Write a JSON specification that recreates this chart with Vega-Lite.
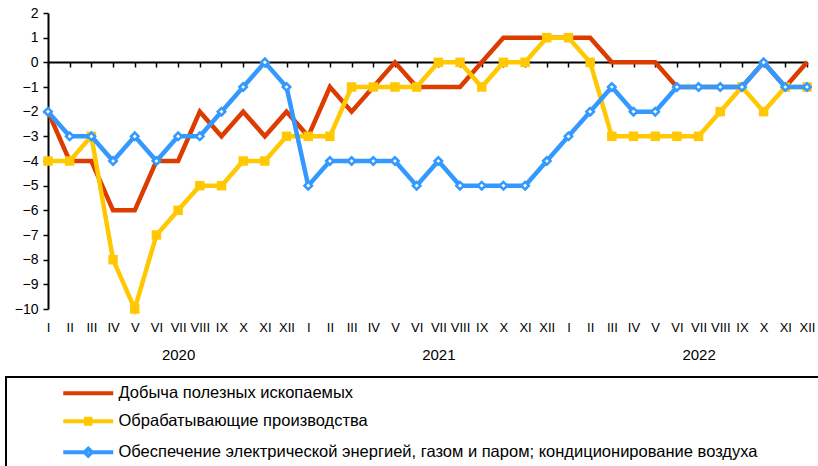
{
  "$schema": "https://vega.github.io/schema/vega-lite/v6.json",
  "width": 759,
  "height": 296,
  "autosize": "none",
  "padding": {"left": 48, "top": 13, "right": 11, "bottom": 157},
  "background": "white",
  "config": {"view": {"stroke": null}, "font": "Liberation Sans", "legend": {"strokeWidth": 2}},
  "data": {"values": [
    {"n": 1, "Добыча полезных ископаемых": -2, "Обрабатывающие производства": -4, "Обеспечение электрической энергией, газом и паром; кондиционирование воздуха": -2},
    {"n": 2, "Добыча полезных ископаемых": -4, "Обрабатывающие производства": -4, "Обеспечение электрической энергией, газом и паром; кондиционирование воздуха": -3},
    {"n": 3, "Добыча полезных ископаемых": -4, "Обрабатывающие производства": -3, "Обеспечение электрической энергией, газом и паром; кондиционирование воздуха": -3},
    {"n": 4, "Добыча полезных ископаемых": -6, "Обрабатывающие производства": -8, "Обеспечение электрической энергией, газом и паром; кондиционирование воздуха": -4},
    {"n": 5, "Добыча полезных ископаемых": -6, "Обрабатывающие производства": -10, "Обеспечение электрической энергией, газом и паром; кондиционирование воздуха": -3},
    {"n": 6, "Добыча полезных ископаемых": -4, "Обрабатывающие производства": -7, "Обеспечение электрической энергией, газом и паром; кондиционирование воздуха": -4},
    {"n": 7, "Добыча полезных ископаемых": -4, "Обрабатывающие производства": -6, "Обеспечение электрической энергией, газом и паром; кондиционирование воздуха": -3},
    {"n": 8, "Добыча полезных ископаемых": -2, "Обрабатывающие производства": -5, "Обеспечение электрической энергией, газом и паром; кондиционирование воздуха": -3},
    {"n": 9, "Добыча полезных ископаемых": -3, "Обрабатывающие производства": -5, "Обеспечение электрической энергией, газом и паром; кондиционирование воздуха": -2},
    {"n": 10, "Добыча полезных ископаемых": -2, "Обрабатывающие производства": -4, "Обеспечение электрической энергией, газом и паром; кондиционирование воздуха": -1},
    {"n": 11, "Добыча полезных ископаемых": -3, "Обрабатывающие производства": -4, "Обеспечение электрической энергией, газом и паром; кондиционирование воздуха": 0},
    {"n": 12, "Добыча полезных ископаемых": -2, "Обрабатывающие производства": -3, "Обеспечение электрической энергией, газом и паром; кондиционирование воздуха": -1},
    {"n": 13, "Добыча полезных ископаемых": -3, "Обрабатывающие производства": -3, "Обеспечение электрической энергией, газом и паром; кондиционирование воздуха": -5},
    {"n": 14, "Добыча полезных ископаемых": -1, "Обрабатывающие производства": -3, "Обеспечение электрической энергией, газом и паром; кондиционирование воздуха": -4},
    {"n": 15, "Добыча полезных ископаемых": -2, "Обрабатывающие производства": -1, "Обеспечение электрической энергией, газом и паром; кондиционирование воздуха": -4},
    {"n": 16, "Добыча полезных ископаемых": -1, "Обрабатывающие производства": -1, "Обеспечение электрической энергией, газом и паром; кондиционирование воздуха": -4},
    {"n": 17, "Добыча полезных ископаемых": 0, "Обрабатывающие производства": -1, "Обеспечение электрической энергией, газом и паром; кондиционирование воздуха": -4},
    {"n": 18, "Добыча полезных ископаемых": -1, "Обрабатывающие производства": -1, "Обеспечение электрической энергией, газом и паром; кондиционирование воздуха": -5},
    {"n": 19, "Добыча полезных ископаемых": -1, "Обрабатывающие производства": 0, "Обеспечение электрической энергией, газом и паром; кондиционирование воздуха": -4},
    {"n": 20, "Добыча полезных ископаемых": -1, "Обрабатывающие производства": 0, "Обеспечение электрической энергией, газом и паром; кондиционирование воздуха": -5},
    {"n": 21, "Добыча полезных ископаемых": 0, "Обрабатывающие производства": -1, "Обеспечение электрической энергией, газом и паром; кондиционирование воздуха": -5},
    {"n": 22, "Добыча полезных ископаемых": 1, "Обрабатывающие производства": 0, "Обеспечение электрической энергией, газом и паром; кондиционирование воздуха": -5},
    {"n": 23, "Добыча полезных ископаемых": 1, "Обрабатывающие производства": 0, "Обеспечение электрической энергией, газом и паром; кондиционирование воздуха": -5},
    {"n": 24, "Добыча полезных ископаемых": 1, "Обрабатывающие производства": 1, "Обеспечение электрической энергией, газом и паром; кондиционирование воздуха": -4},
    {"n": 25, "Добыча полезных ископаемых": 1, "Обрабатывающие производства": 1, "Обеспечение электрической энергией, газом и паром; кондиционирование воздуха": -3},
    {"n": 26, "Добыча полезных ископаемых": 1, "Обрабатывающие производства": 0, "Обеспечение электрической энергией, газом и паром; кондиционирование воздуха": -2},
    {"n": 27, "Добыча полезных ископаемых": 0, "Обрабатывающие производства": -3, "Обеспечение электрической энергией, газом и паром; кондиционирование воздуха": -1},
    {"n": 28, "Добыча полезных ископаемых": 0, "Обрабатывающие производства": -3, "Обеспечение электрической энергией, газом и паром; кондиционирование воздуха": -2},
    {"n": 29, "Добыча полезных ископаемых": 0, "Обрабатывающие производства": -3, "Обеспечение электрической энергией, газом и паром; кондиционирование воздуха": -2},
    {"n": 30, "Добыча полезных ископаемых": -1, "Обрабатывающие производства": -3, "Обеспечение электрической энергией, газом и паром; кондиционирование воздуха": -1},
    {"n": 31, "Добыча полезных ископаемых": -1, "Обрабатывающие производства": -3, "Обеспечение электрической энергией, газом и паром; кондиционирование воздуха": -1},
    {"n": 32, "Добыча полезных ископаемых": -1, "Обрабатывающие производства": -2, "Обеспечение электрической энергией, газом и паром; кондиционирование воздуха": -1},
    {"n": 33, "Добыча полезных ископаемых": -1, "Обрабатывающие производства": -1, "Обеспечение электрической энергией, газом и паром; кондиционирование воздуха": -1},
    {"n": 34, "Добыча полезных ископаемых": 0, "Обрабатывающие производства": -2, "Обеспечение электрической энергией, газом и паром; кондиционирование воздуха": 0},
    {"n": 35, "Добыча полезных ископаемых": -1, "Обрабатывающие производства": -1, "Обеспечение электрической энергией, газом и паром; кондиционирование воздуха": -1},
    {"n": 36, "Добыча полезных ископаемых": 0, "Обрабатывающие производства": -1, "Обеспечение электрической энергией, газом и паром; кондиционирование воздуха": -1}
  ]},
  "transform": [
    {"fold": ["Добыча полезных ископаемых", "Обрабатывающие производства", "Обеспечение электрической энергией, газом и паром; кондиционирование воздуха"], "as": ["s", "v"]}
  ],
  "encoding": {
    "x": {"field": "n", "type": "quantitative", "scale": {"domain": [1, 36], "nice": false, "zero": false}, "axis": null},
    "y": {
      "field": "v", "type": "quantitative",
      "scale": {"domain": [-10, 2], "nice": false, "zero": false},
      "axis": {
        "values": [-10, -9, -8, -7, -6, -5, -4, -3, -2, -1, 0, 1, 2],
        "title": null, "grid": false,
        "domainColor": "black", "domainWidth": 2,
        "tickColor": "black", "tickWidth": 1.5, "tickSize": 5,
        "labelFontSize": 14, "labelColor": "black", "labelPadding": 5, "labelFont": "Liberation Sans"
      }
    }
  },
  "layer": [
    {
      "mark": {"type": "point", "opacity": 0},
      "encoding": {
        "x": {"field": "n", "type": "quantitative", "scale": {"domain": [1, 36], "nice": false, "zero": false},
          "axis": {"orient": "bottom", "offset": -247, "values": [1,2,3,4,5,6,7,8,9,10,11,12,13,14,15,16,17,18,19,20,21,22,23,24,25,26,27,28,29,30,31,32,33,34,35,36],
            "labels": false, "title": null, "grid": false, "domainColor": "black", "domainWidth": 2, "tickColor": "black", "tickWidth": 1.5, "tickSize": 5}},
        "color": {
          "field": "s", "type": "nominal",
          "scale": {"domain": ["Добыча полезных ископаемых", "Обрабатывающие производства", "Обеспечение электрической энергией, газом и паром; кондиционирование воздуха"], "range": ["#DC3C00", "#FFC800", "#3399FF"]},
          "legend": {
            "orient": "none", "legendX": -42, "legendY": 364, "title": null,
            "strokeColor": "black", "fillColor": "white", "padding": 8,
            "symbolSize": 100, "symbolStrokeWidth": 4, "symbolOffset": 66, "symbolFillColor": "white",
            "labelOffset": 22, "labelFontSize": 16.5, "labelFont": "Liberation Sans", "labelColor": "black", "labelLimit": 900,
            "rowPadding": 8,
            "labelExpr": "datum.label + '\u00a0\u00a0\u00a0\u00a0\u00a0\u00a0\u00a0\u00a0\u00a0\u00a0\u00a0\u00a0\u200d'"
          }
        },
        "shape": {
          "field": "s", "type": "nominal",
          "scale": {"domain": ["Добыча полезных ископаемых", "Обрабатывающие производства", "Обеспечение электрической энергией, газом и паром; кондиционирование воздуха"],
            "range": ["M-5,0H5", "M-5,0H5M-0.45,-0.5H0.45V0.5H-0.45Z", "M-5,0H-0.7M0.7,0H5M0,-0.7L0.7,0L0,0.7L-0.7,0Z"]}
        }
      }
    },
    {
      "transform": [{"filter": "datum.s == 'Добыча полезных ископаемых'"}],
      "mark": {"type": "line", "color": "#DC3C00", "strokeWidth": 4.5},
      "encoding": {
        "x": {"field": "n", "type": "quantitative", "scale": {"domain": [1, 36], "nice": false, "zero": false},
          "axis": {"orient": "bottom", "values": [1,2,3,4,5,6,7,8,9,10,11,12,13,14,15,16,17,18,19,20,21,22,23,24,25,26,27,28,29,30,31,32,33,34,35,36],
            "labelExpr": "['I','II','III','IV','V','VI','VII','VIII','IX','X','XI','XII'][(datum.value - 1) % 12]",
            "domain": false, "ticks": false, "tickSize": 0, "grid": false, "title": null,
            "labelFontSize": 13, "labelColor": "black", "labelPadding": 12, "labelOverlap": false, "labelFlush": false, "labelBound": false, "labelFont": "Liberation Sans"}}
      }
    },
    {
      "transform": [{"filter": "datum.s == 'Обрабатывающие производства'"}],
      "mark": {"type": "line", "color": "#FFC800", "strokeWidth": 4.5},
      "encoding": {
        "x": {"field": "n", "type": "quantitative", "scale": {"domain": [1, 36], "nice": false, "zero": false},
          "axis": {"orient": "bottom", "values": [7, 19, 31],
            "labelExpr": "datum.value < 10 ? '2020' : datum.value < 25 ? '2021' : '2022'",
            "domain": false, "ticks": false, "tickSize": 0, "grid": false, "title": null,
            "labelFontSize": 15, "labelColor": "black", "labelPadding": 38, "labelOverlap": false, "labelFlush": false, "labelBound": false, "labelFont": "Liberation Sans"}}
      }
    },
    {
      "transform": [{"filter": "datum.s == 'Обрабатывающие производства'"}],
      "mark": {"type": "point", "shape": "square", "filled": true, "color": "#FFC800", "size": 90, "opacity": 1}
    },
    {
      "transform": [{"filter": "datum.s == 'Обеспечение электрической энергией, газом и паром; кондиционирование воздуха'"}],
      "mark": {"type": "line", "color": "#3399FF", "strokeWidth": 4.5}
    },
    {
      "transform": [{"filter": "datum.s == 'Обеспечение электрической энергией, газом и паром; кондиционирование воздуха'"}],
      "mark": {"type": "point", "shape": "diamond", "filled": false, "fill": "white", "stroke": "#3399FF", "strokeWidth": 2.5, "size": 56, "opacity": 1}
    }
  ],
  "resolve": {"axis": {"x": "independent"}}
}
